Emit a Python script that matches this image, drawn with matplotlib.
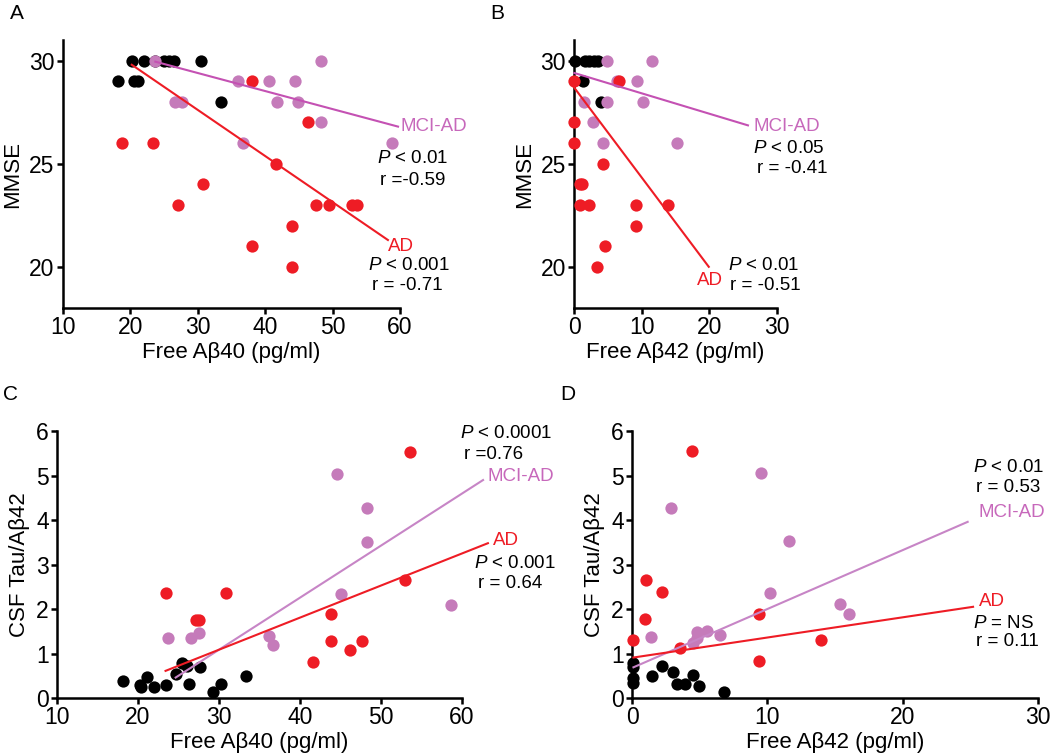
import matplotlib
matplotlib.use("Agg")
import matplotlib.pyplot as plt

plt.rcParams['font.family'] = ['Liberation Sans', 'DejaVu Sans']
plt.rcParams['mathtext.fontset'] = 'custom'
plt.rcParams['mathtext.it'] = 'Liberation Sans:italic'
plt.rcParams['mathtext.rm'] = 'Liberation Sans'

# ---------------- Data ----------------
# Panel A: MMSE vs free Abeta40
a_ctrl_x = [18.2, 20.3, 20.5, 21.2, 22.0, 23.6, 25.0, 25.7, 26.4, 30.4, 33.5]
a_ctrl_y = [29, 30, 29, 29, 30, 30, 30, 30, 30, 30, 28]
a_mci_x = [23.7, 26.6, 27.6, 36.0, 36.7, 40.6, 41.7, 44.4, 44.9, 48.3, 48.3, 58.8]
a_mci_y = [30, 28, 28, 29, 26, 29, 28, 29, 28, 30, 27, 26]
a_ad_x = [18.7, 23.4, 27.1, 30.8, 38.0, 38.0, 41.6, 43.9, 43.9, 46.3, 47.6, 49.4, 52.8, 53.6]
a_ad_y = [26, 26, 23, 24, 29, 21, 25, 22, 20, 27, 23, 23, 23, 23]
a_fit_mci_x = [23.7, 59.7]
a_fit_mci_y = [29.95, 26.8]
a_fit_ad_x = [20.2, 58.2]
a_fit_ad_y = [29.8, 21.3]

# Panel B: MMSE vs free Abeta42
b_ctrl_x = [0.05, 1.6, 2.2, 2.9, 3.5, 1.3, 4.0]
b_ctrl_y = [30, 30, 30, 30, 30, 29, 28]
b_mci_x = [4.8, 11.5, 6.3, 9.3, 1.4, 4.8, 10.1, 2.7, 4.3, 15.2]
b_mci_y = [30, 30, 29, 29, 28, 28, 28, 27, 26, 26]
b_ad_x = [0.0, 6.6, 0.0, 0.0, 4.2, 0.9, 1.1, 0.9, 2.1, 9.2, 13.8, 9.2, 4.5, 3.4]
b_ad_y = [29, 29, 27, 26, 25, 24, 24, 23, 23, 23, 23, 22, 21, 20]
b_fit_mci_x = [0.0, 25.7]
b_fit_mci_y = [29.4, 26.86]
b_fit_ad_x = [-0.5, 19.9]
b_fit_ad_y = [28.9, 20.0]

# Panel C: CSF Tau/Abeta42 vs free Abeta40
c_ctrl_x = [18.2, 20.2, 20.4, 21.1, 22.0, 23.5, 24.7, 25.4, 26.1, 26.3, 27.7, 29.3, 30.3, 33.3]
c_ctrl_y = [0.38, 0.29, 0.24, 0.48, 0.24, 0.29, 0.55, 0.78, 0.71, 0.31, 0.69, 0.13, 0.31, 0.49]
c_mci_x = [23.7, 26.6, 27.5, 36.2, 36.7, 44.6, 48.3, 48.3, 45.0, 58.7]
c_mci_y = [1.36, 1.36, 1.47, 1.39, 1.19, 5.03, 4.28, 3.50, 2.34, 2.08]
c_ad_x = [23.5, 27.2, 27.5, 30.9, 41.6, 43.8, 43.8, 46.2, 47.6, 53.0, 53.6]
c_ad_y = [2.35, 1.75, 1.75, 2.37, 0.82, 1.88, 1.28, 1.09, 1.28, 2.65, 5.54]
c_fit_mci_x = [24.65, 62.6]
c_fit_mci_y = [0.46, 4.9]
c_fit_ad_x = [23.4, 63.2]
c_fit_ad_y = [0.61, 3.48]

# Panel D: CSF Tau/Abeta42 vs free Abeta42
d_ctrl_x = [0.1, 0.1, 0.1, 0.1, 1.46, 2.2, 3.0, 3.3, 3.9, 4.5, 4.96, 6.8]
d_ctrl_y = [0.79, 0.69, 0.44, 0.33, 0.50, 0.72, 0.59, 0.31, 0.31, 0.52, 0.27, 0.14]
d_mci_x = [1.4, 2.9, 4.5, 4.8, 4.8, 5.5, 6.5, 9.5, 10.2, 11.6, 15.4, 16.0]
d_mci_y = [1.38, 4.28, 1.23, 1.49, 1.34, 1.51, 1.41, 5.06, 2.37, 3.52, 2.11, 1.89]
d_ad_x = [0.1, 1.04, 0.96, 2.2, 3.56, 4.4, 9.36, 9.36, 13.98]
d_ad_y = [1.30, 2.65, 1.77, 2.39, 1.12, 5.55, 1.89, 0.84, 1.30]
d_fit_mci_x = [0.1, 24.8]
d_fit_mci_y = [0.69, 3.96]
d_fit_ad_x = [0.1, 25.2]
d_fit_ad_y = [0.91, 2.05]

# ---------------- Style ----------------
BLACK = '#000000'
PINK_DOT = '#C57BBA'
PINK_LINE_AB = '#C451B3'
PINK_LINE_CD = '#C785C6'
PINK_TEXT = '#C768BB'
RED = '#EE1C25'
MS = 78
TICK_FS = 16.5
LABEL_FS = 16
ANN_FS = 13.5

fig = plt.figure(figsize=(10.5, 7.55), dpi=100)

axA = fig.add_axes([0.060, 0.592, 0.321, 0.355])
axB = fig.add_axes([0.547, 0.592, 0.193, 0.355])
axC = fig.add_axes([0.0543, 0.0755, 0.3857, 0.3535])
axD = fig.add_axes([0.602, 0.0755, 0.3866, 0.3535])


def style(ax, xlim, ylim, xticks, yticks):
    ax.set_xlim(*xlim)
    ax.set_ylim(*ylim)
    ax.set_xticks(xticks)
    ax.set_yticks(yticks)
    for s in ['top', 'right']:
        ax.spines[s].set_visible(False)
    for s in ['left', 'bottom']:
        ax.spines[s].set_linewidth(1.8)
    ax.tick_params(direction='out', length=4, width=1.8, labelsize=TICK_FS, pad=2)
    ax.patch.set_alpha(0)


def draw(ax, cx, cy, mx, my, ax_, ay, fmx, fmy, fax, fay, pink_line):
    ax.scatter(cx, cy, s=MS, color=BLACK, lw=0, clip_on=False, zorder=3)
    ax.scatter(mx, my, s=MS, color=PINK_DOT, lw=0, clip_on=False, zorder=3)
    ax.scatter(ax_, ay, s=MS, color=RED, lw=0, clip_on=False, zorder=3)
    ax.plot(fmx, fmy, color=pink_line, lw=1.5, clip_on=False, zorder=4)
    ax.plot(fax, fay, color=RED, lw=1.5, clip_on=False, zorder=4)


def txt(ax, x, y, s, color=BLACK):
    ax.text(x, y, s, color=color, fontsize=ANN_FS, ha='left', va='center', clip_on=False)


# Panel A
style(axA, (10, 60), (18, 31), [10, 20, 30, 40, 50, 60], [20, 25, 30])
draw(axA, a_ctrl_x, a_ctrl_y, a_mci_x, a_mci_y, a_ad_x, a_ad_y,
     a_fit_mci_x, a_fit_mci_y, a_fit_ad_x, a_fit_ad_y, PINK_LINE_AB)
axA.set_ylabel('MMSE', fontsize=LABEL_FS, labelpad=4)
axA.set_xlabel('Free Aβ40 (pg/ml)', fontsize=LABEL_FS, labelpad=2)
txt(axA, 60.0, 26.8, 'MCI-AD', PINK_TEXT)
txt(axA, 56.6, 25.25, r'$\it{P}$ < 0.01')
txt(axA, 57.0, 24.2, 'r =-0.59')
txt(axA, 58.2, 21.0, 'AD', RED)
txt(axA, 55.3, 20.05, r'$\it{P}$ < 0.001')
txt(axA, 55.8, 19.1, 'r = -0.71')

# Panel B
style(axB, (0, 30), (18, 31), [0, 10, 20, 30], [20, 25, 30])
draw(axB, b_ctrl_x, b_ctrl_y, b_mci_x, b_mci_y, b_ad_x, b_ad_y,
     b_fit_mci_x, b_fit_mci_y, b_fit_ad_x, b_fit_ad_y, PINK_LINE_AB)
axB.set_ylabel('MMSE', fontsize=LABEL_FS, labelpad=4)
axB.set_xlabel('Free Aβ42 (pg/ml)', fontsize=LABEL_FS, labelpad=2)
txt(axB, 26.5, 26.8, 'MCI-AD', PINK_TEXT)
txt(axB, 26.5, 25.75, r'$\it{P}$ < 0.05')
txt(axB, 27.0, 24.78, 'r = -0.41')
txt(axB, 18.1, 19.35, 'AD', RED)
txt(axB, 22.8, 20.05, r'$\it{P}$ < 0.01')
txt(axB, 23.0, 19.1, 'r = -0.51')

# Panel C
style(axC, (10, 60), (0, 6), [10, 20, 30, 40, 50, 60], [0, 1, 2, 3, 4, 5, 6])
draw(axC, c_ctrl_x, c_ctrl_y, c_mci_x, c_mci_y, c_ad_x, c_ad_y,
     c_fit_mci_x, c_fit_mci_y, c_fit_ad_x, c_fit_ad_y, PINK_LINE_CD)
axC.set_ylabel('CSF Tau/Aβ42', fontsize=LABEL_FS, labelpad=4)
axC.set_xlabel('Free Aβ40 (pg/ml)', fontsize=LABEL_FS, labelpad=2)
txt(axC, 59.7, 5.95, r'$\it{P}$ < 0.0001')
txt(axC, 60.2, 5.48, 'r =0.76')
txt(axC, 63.1, 4.97, 'MCI-AD', PINK_TEXT)
txt(axC, 63.8, 3.55, 'AD', RED)
txt(axC, 61.5, 3.03, r'$\it{P}$ < 0.001')
txt(axC, 62.0, 2.58, 'r = 0.64')

# Panel D
style(axD, (0, 30), (0, 6), [0, 10, 20, 30], [0, 1, 2, 3, 4, 5, 6])
draw(axD, d_ctrl_x, d_ctrl_y, d_mci_x, d_mci_y, d_ad_x, d_ad_y,
     d_fit_mci_x, d_fit_mci_y, d_fit_ad_x, d_fit_ad_y, PINK_LINE_CD)
axD.set_ylabel('CSF Tau/Aβ42', fontsize=LABEL_FS, labelpad=4)
axD.set_xlabel('Free Aβ42 (pg/ml)', fontsize=LABEL_FS, labelpad=2)
txt(axD, 25.2, 5.18, r'$\it{P}$ < 0.01')
txt(axD, 25.4, 4.73, 'r = 0.53')
txt(axD, 25.6, 4.16, 'MCI-AD', PINK_TEXT)
txt(axD, 25.6, 2.16, 'AD', RED)
txt(axD, 25.2, 1.68, r'$\it{P}$ = NS')
txt(axD, 25.4, 1.27, 'r = 0.11')

# Panel letters
for lab, x, y in [('A', 0.016, 0.982), ('B', 0.474, 0.982), ('C', 0.010, 0.478), ('D', 0.541, 0.478)]:
    fig.text(x, y, lab, fontsize=15, ha='center', va='center')

fig.savefig('out.png', dpi=100)
